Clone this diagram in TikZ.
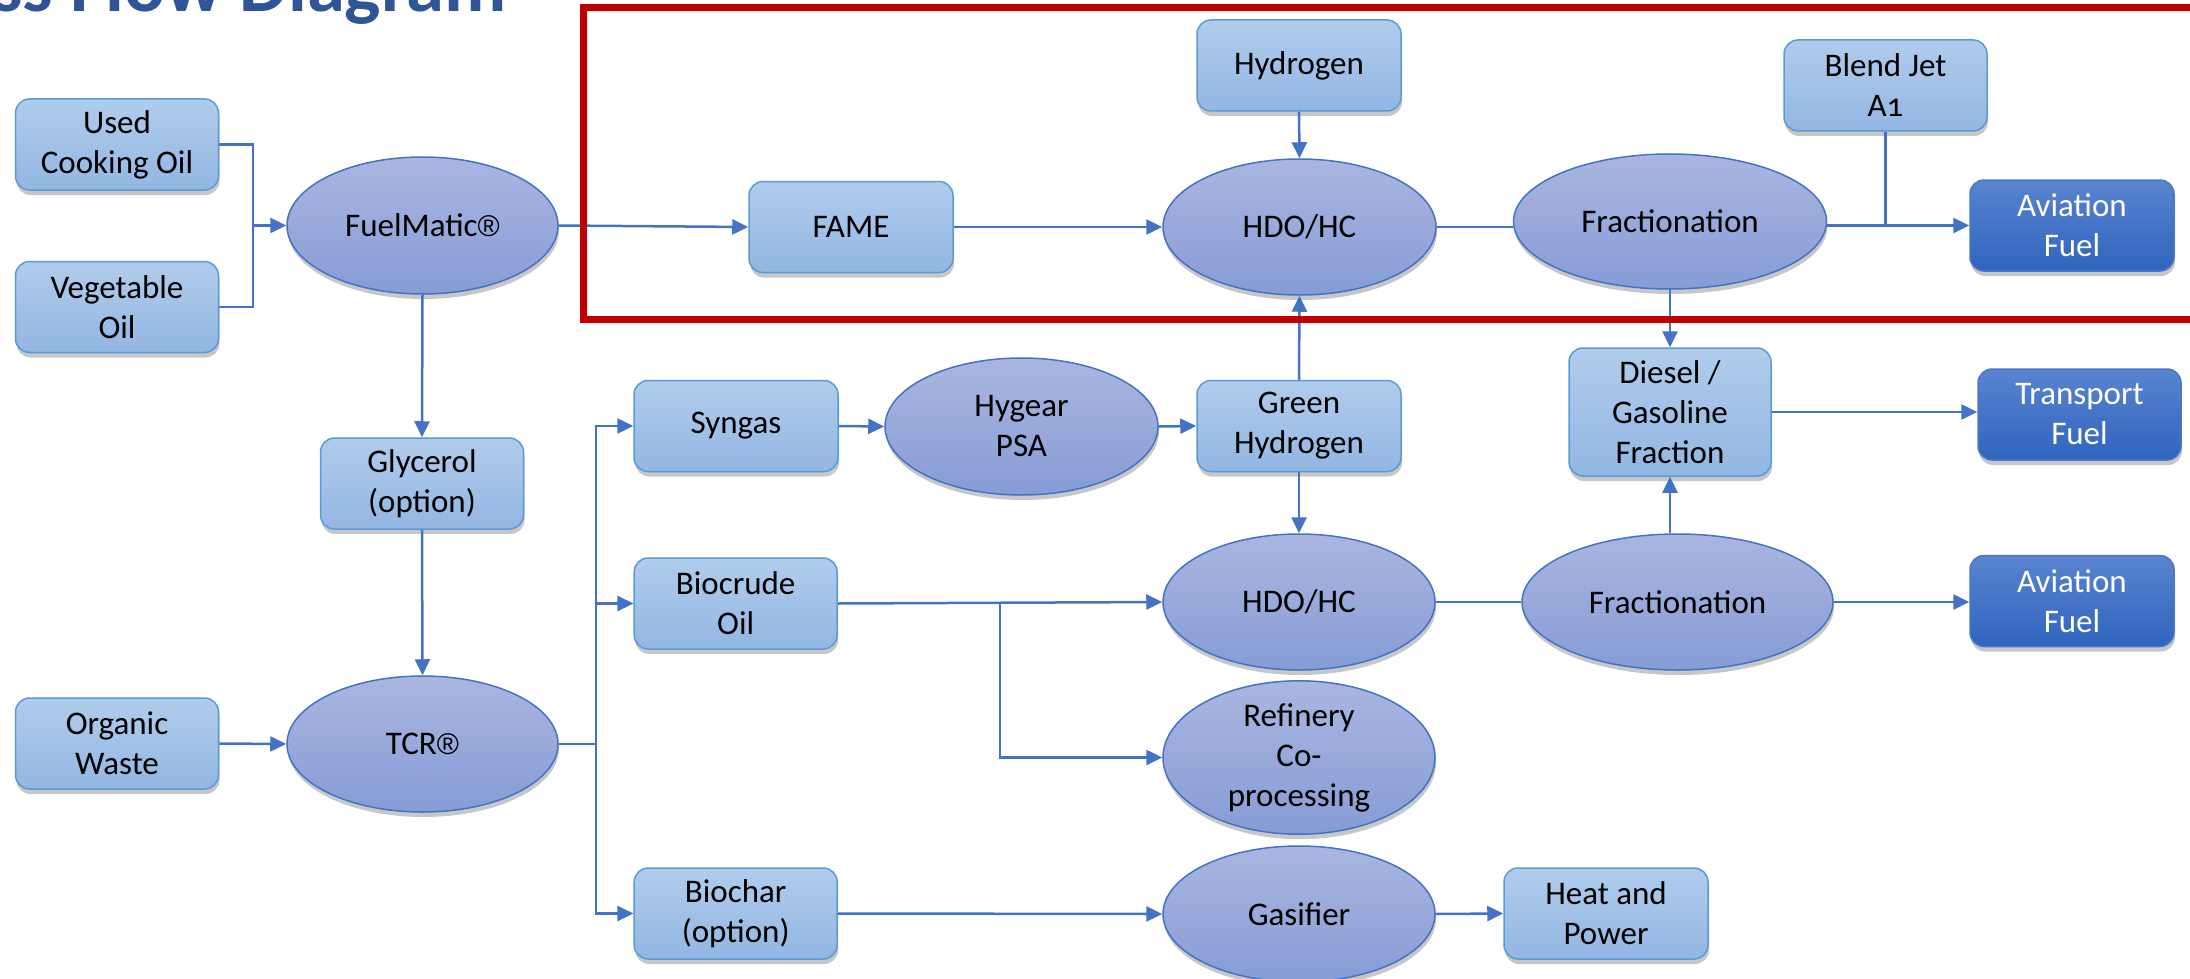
\documentclass[tikz,border=0pt]{standalone}
\usepackage{fontspec}
\setmainfont{Carlito}
\newfontfamily\regfont{Liberation Sans}
\newcommand{\regmark}{{\regfont\fontsize{30}{40}\selectfont ®}}
\usetikzlibrary{shapes.geometric,arrows.meta,shadows}
\definecolor{conn}{HTML}{4472C4}
\definecolor{boxtop}{HTML}{B0CCEB}
\definecolor{boxbot}{HTML}{92B7E3}
\definecolor{boxedge}{HTML}{5B9BD5}
\definecolor{elltop}{HTML}{AAB6E0}
\definecolor{ellbot}{HTML}{869CD6}
\definecolor{elledge}{HTML}{4472C4}
\definecolor{darktop}{HTML}{5984D0}
\definecolor{darkbot}{HTML}{3064BE}
\definecolor{darkedge}{HTML}{4A78C8}
\definecolor{titleblue}{HTML}{2F5597}
\definecolor{framered}{HTML}{C00000}
\begin{document}
\begin{tikzpicture}[x=1pt,y=-1pt,
  every node/.style={font=\fontsize{33}{40}\selectfont, align=center, inner sep=0pt},
  sh/.style={drop shadow={shadow xshift=1pt,shadow yshift=-5pt,opacity=0.22,fill=black}},
  procbox/.style={rectangle, rounded corners=14pt, minimum width=203pt, minimum height=91pt,
    draw=boxedge, line width=1.5pt, top color=boxtop, bottom color=boxbot, sh},
  procell/.style={ellipse, minimum width=272pt, minimum height=136pt,
    draw=elledge, line width=1.5pt, top color=elltop, bottom color=ellbot, sh},
  fuelbox/.style={procbox, draw=darkedge, top color=darktop, bottom color=darkbot, text=white},
  link/.style={draw=conn, line width=2.5pt},
  arr/.style={link, -{Triangle[length=16pt,width=15pt]}},
  redframe/.style={draw=framered, line width=7pt}
]
\useasboundingbox (0,0) rectangle (2190,979);
\fill[white] (0,0) rectangle (2190,979);

% title (cut by the top edge, as in the reference)
\node[anchor=base east, font=\fontsize{76.6}{80}\selectfont\bfseries, text=titleblue] (title) at (507,12) {ss Flow Diagram};

% feedstock and left column
\node[procbox] (uco) at (117,144.5) {Used\\Cooking Oil};
\node[procbox] (veg) at (117,307) {Vegetable\\Oil};
\node[procell, minimum width=271pt, minimum height=137pt] (fuel) at (422.5,225.5) {FuelMatic\regmark};
\node[procbox] (gly) at (422,483.5) {Glycerol\\(option)};
\node[procbox] (org) at (117,743.5) {Organic\\Waste};
\node[procell, minimum width=271pt] (tcr) at (422.5,744) {TCR\regmark};

% top row
\node[procbox, minimum width=204pt] (fame) at (851,227) {FAME};
\node[procbox, minimum width=204pt] (hyd) at (1299,65.5) {Hydrogen};
\node[procell, minimum width=273pt] (hdo1) at (1299.5,227) {HDO/HC};
\node[procell, minimum width=313pt, minimum height=135pt] (frac1) at (1670,221.5) {Fractionation};
\node[procbox] (blend) at (1885.5,85.5) {Blend Jet\\A{\addfontfeatures{Numbers=OldStyle}1}};
\node[fuelbox, minimum width=204pt] (av1) at (2072,225.5) {Aviation\\Fuel};

% middle rows
\node[procbox, minimum width=204pt] (syn) at (736,426) {Syngas};
\node[procell, minimum width=273pt, minimum height=137pt] (hyg) at (1021.5,426.5) {Hygear\\PSA};
\node[procbox, minimum width=204pt] (gh) at (1299,426) {Green\\Hydrogen};
\node[procbox, minimum width=202pt, minimum height=128pt] (diesel) at (1670,412) {Diesel /\\Gasoline\\Fraction};
\node[fuelbox] (trans) at (2079.5,414.5) {Transport\\Fuel};
\node[procbox] (bio) at (735.7,603.5) {Biocrude\\Oil};
\node[procell] (hdo2) at (1299,602) {HDO/HC};
\node[procell, minimum width=311pt] (frac2) at (1677.5,602) {Fractionation};
\node[fuelbox, minimum width=204pt] (av2) at (2072,601) {Aviation\\Fuel};
\node[procell, minimum height=137pt] (ref) at (1299,757.5) {Refinery\\Co-\\processing};

% bottom row
\node[procbox] (char) at (735.7,913.5) {Biochar\\(option)};
\node[procell] (gas) at (1299,914) {Gasifier};
\node[procbox, minimum width=204pt] (heat) at (1606,913.5) {Heat and\\Power};

% junction points
\coordinate (j1) at (253,225.5);
\coordinate (j2) at (596,744);
\coordinate (j3) at (1000,603);

% connectors
\draw[link] (uco.east) -| (j1) |- (veg.east);
\draw[arr] (j1) -- (fuel.west);
\draw[arr] (fuel.east) -- (fame.west);
\draw[arr] (fuel.south) -- (gly.north);
\draw[arr] (gly.south) -- (tcr.north);
\draw[arr] (org.east) -- (tcr.west);
\draw[link] (tcr.east) -- (j2);
\draw[arr] (j2) |- (syn.west);
\draw[arr] (j2) |- (bio.west);
\draw[arr] (j2) |- (char.west);

\draw[arr] (fame.east) -- (hdo1.west);
\draw[arr] (hyd.south) -- (hdo1.north);
\draw[arr] (gh.north) -- (hdo1.south);
\draw[link] (hdo1.east) -- (hdo1.east -| frac1.west);
\draw[arr] (frac1.east |- av1.west) -- (av1.west);
\draw[link] (blend.south) -- (blend.south |- av1.west);
\draw[arr] (frac1.south) -- (diesel.north);
\draw[arr] (diesel.south |- frac2.north) -- (diesel.south);
\draw[arr] (diesel.east) -- (diesel.east -| trans.west);

\draw[arr] (syn.east) -- (hyg.west);
\draw[arr] (hyg.east) -- (gh.west);
\draw[arr] (gh.south) -- (hdo2.north);
\draw[arr] (bio.east) -- (hdo2.west);
\draw[arr] (j3) |- (ref.west);
\draw[link] (hdo2.east) -- (frac2.west);
\draw[arr] (frac2.east) -- (frac2.east -| av2.west);

\draw[arr] (char.east) -- (gas.west);
\draw[arr] (gas.east) -- (heat.west);

% highlighted region
\draw[redframe] (583.5,8) rectangle (2240,319);
\end{tikzpicture}
\end{document}
